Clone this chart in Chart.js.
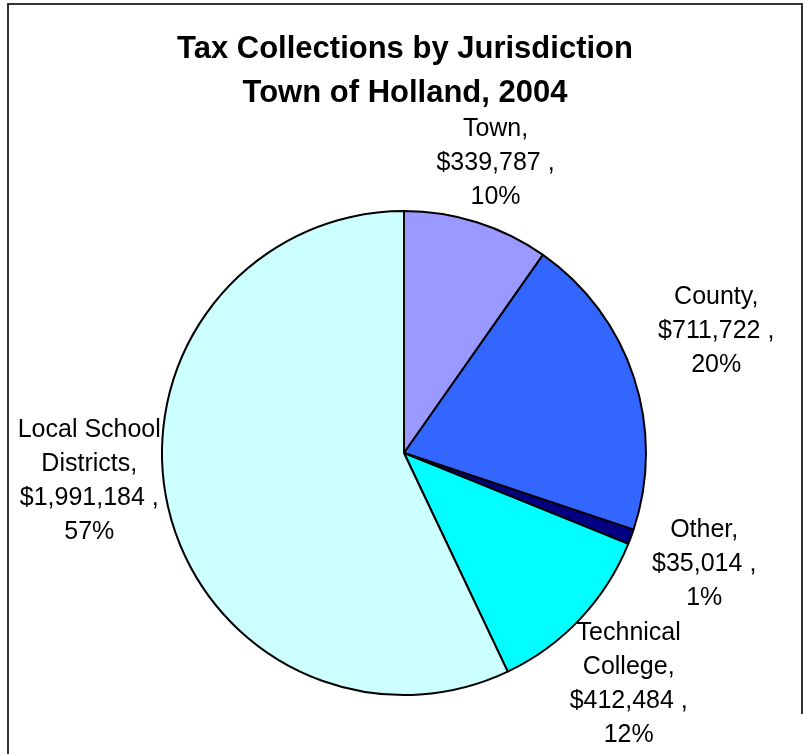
<!DOCTYPE html>
<html>
<head>
<meta charset="utf-8">
<script src="https://cdn.jsdelivr.net/npm/chart.js@4"></script>
<style>
  html, body { margin: 0; padding: 0; background: #fff; }
  #wrap { width: 803px; height: 754px; position: relative; }
</style>
</head>
<body>
<div id="wrap"><canvas id="chart1"></canvas></div>
<script>
const categories = ["Town", "County", "Other", "Technical College", "Local School Districts"];
const values = [339787, 711722, 35014, 412484, 1991184];
const labelLines = [
  ["Town,", "$339,787 ,", "10%"],
  ["County,", "$711,722 ,", "20%"],
  ["Other,", "$35,014 ,", "1%"],
  ["Technical", "College,", "$412,484 ,", "12%"],
  ["Local School", "Districts,", "$1,991,184 ,", "57%"],
];
const colors = ["#9999ff", "#3366ff", "#000080", "#00ffff", "#ccffff"];
const titleLines = ["Tax Collections by Jurisdiction", "Town of Holland, 2004"];

// label placement: [angle nudge in degrees, distance beyond the pie edge]
const labelPlace = [[0, 62], [-3, 93], [0, 78], [2.4, 80], [7.6, 74]];

const frameAndText = {
  id: "frameAndText",
  afterDraw(chart) {
    const c = chart.ctx;
    c.save();
    // frame
    c.strokeStyle = "#333";
    c.lineWidth = 2;
    c.beginPath();
    c.moveTo(8, 754);
    c.lineTo(8, 4);
    c.lineTo(803, 4);
    c.moveTo(802, 4);
    c.lineTo(802, 714);
    c.stroke();

    // title
    c.fillStyle = "#000";
    c.textAlign = "center";
    c.textBaseline = "middle";
    c.font = "bold 31px 'Liberation Sans', Arial, sans-serif";
    c.fillText(titleLines[0], 405, 49);
    c.fillText(titleLines[1], 405, 93);

    // slice labels
    c.font = "25px 'Liberation Sans', Arial, sans-serif";
    const meta = chart.getDatasetMeta(0);
    meta.data.forEach((arc, i) => {
      const p = arc.getProps(["x", "y", "startAngle", "endAngle", "outerRadius"], true);
      const mid = (p.startAngle + p.endAngle) / 2 + labelPlace[i][0] * Math.PI / 180;
      const d = p.outerRadius + labelPlace[i][1];
      const cx = p.x + Math.cos(mid) * d;
      const cy = p.y + Math.sin(mid) * d;
      const lines = labelLines[i];
      const lh = 34;
      const y0 = cy - (lines.length - 1) * lh / 2;
      lines.forEach((t, k) => c.fillText(t, cx, y0 + k * lh));
    });
    c.restore();
  },
};

new Chart(document.getElementById("chart1"), {
  type: "pie",
  data: {
    labels: categories,
    datasets: [
      {
        data: values,
        backgroundColor: colors,
        borderColor: "#000",
        borderWidth: 2,
      },
    ],
  },
  options: {
    responsive: true,
    maintainAspectRatio: false,
    animation: false,
    layout: { padding: { left: 161, right: 156, top: 210, bottom: 58 } },
    plugins: {
      legend: { display: false },
      title: { display: false },
      tooltip: { enabled: false },
    },
  },
  plugins: [frameAndText],
});
</script>
</body>
</html>
